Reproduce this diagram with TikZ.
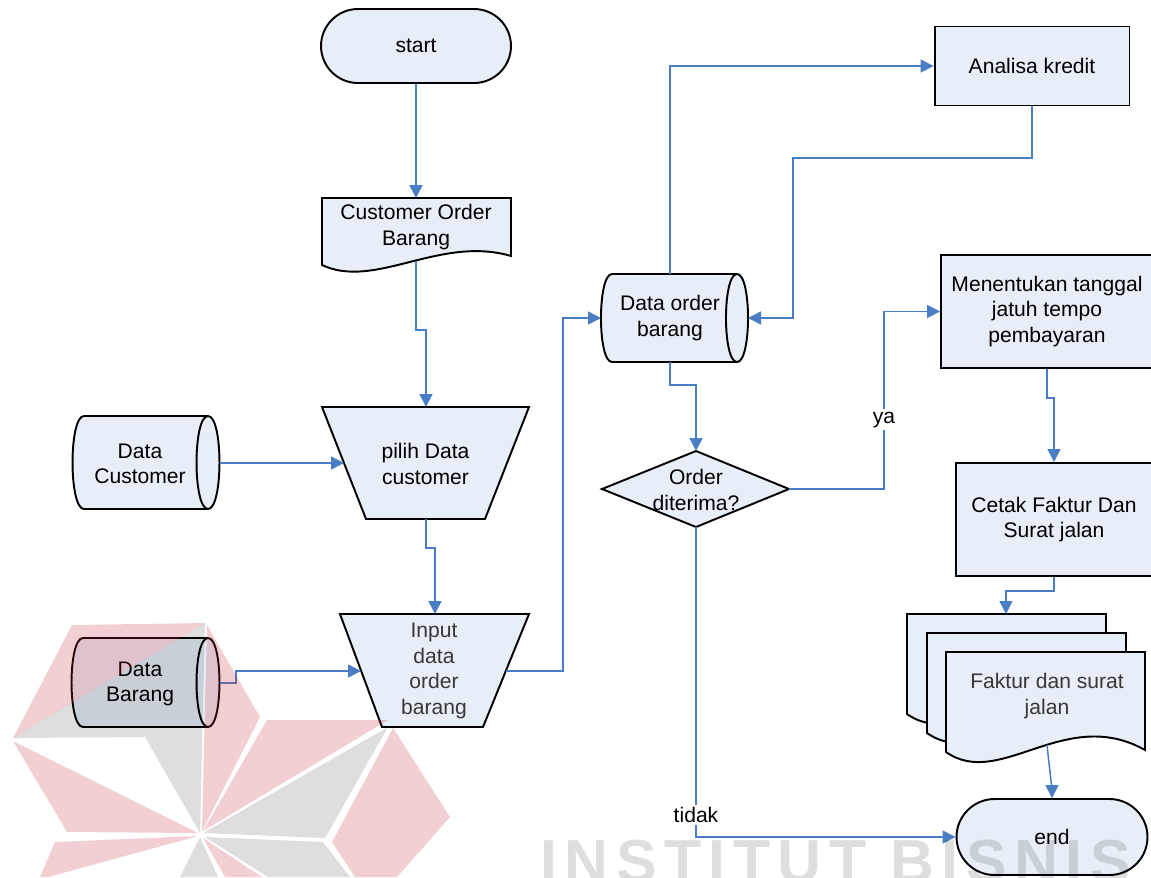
\documentclass[tikz,border=0pt]{standalone}
\usepackage{fontspec}
\setmainfont{Liberation Sans}
\newfontfamily\markfont{Liberation Sans}[LetterSpace=12.3]
\usetikzlibrary{arrows.meta,shapes.misc}
\definecolor{boxfill}{RGB}{232,238,247}
\definecolor{connblue}{RGB}{74,126,196}
\definecolor{wmred}{RGB}{200,40,55}
\newcommand{\lbl}{\fontsize{12}{14.5}\selectfont}
\tikzset{
  box/.style={draw=black, line width=1.1pt, fill=boxfill, line join=miter},
  edge/.style={draw=black, line width=1.1pt},
  txt/.style={align=center, font=\lbl, inner sep=0pt},
  rect/.style={box, rectangle, txt},
  term/.style={box, rounded rectangle, txt},
  conn/.style={draw=connblue, line width=0.85pt, -{Triangle[length=0.26cm,width=0.26cm]}},
  lab/.style={fill=white, inner sep=1.5pt, font=\lbl},
  wmr/.style={fill=wmred, fill opacity=0.22},
  wmg/.style={fill=black, fill opacity=0.13},
}
\begin{document}
\begin{tikzpicture}[x=0.02cm,y=-0.02cm]
\useasboundingbox (0,0) rectangle (1151,877);
\fill[white] (0,0) rectangle (1151,877);

% ---------- shapes ----------
% start / end terminals
\node[term, minimum width=3.8cm, minimum height=1.48cm] (start) at (416,46) {start};
\node[term, minimum width=3.82cm, minimum height=1.52cm] (endn) at (1052,837) {end};

% document: Customer Order Barang
\path[box] (322,198) -- (511,198) -- (511,256) .. controls (440,235) and (375,290) .. (322,265) -- cycle;
\node[txt] (cuo) at (416,227) {Customer Order\\Barang};
\coordinate (cuoN) at (416,198);
\coordinate (cuoS) at (416,261);

% manual operation: pilih Data customer
\path[box] (322,407) -- (529,407) -- (485,519) -- (366,519) -- cycle;
\node[txt] (pilih) at (425.5,464) {pilih Data\\customer};
\coordinate (pilihN) at (426,407);
\coordinate (pilihS) at (426,519);
\coordinate (pilihW) at (344,463);

% manual operation: Input data order barang
\path[box] (340,614) -- (529,614) -- (483,727) -- (382,727) -- cycle;
\node[txt, text=black!78] (inp) at (434,671) {Input\\data\\order\\barang};
\coordinate (inN) at (435,614);
\coordinate (inW) at (361,671);
\coordinate (inE) at (506,671);

% stored data: Data Customer
\path[box] (84,416) -- (208,416) .. controls (223.3,416) and (223.3,509) .. (208,509)
  -- (84,509) .. controls (68.7,509) and (68.7,416) .. (84,416) -- cycle;
\draw[edge] (208,416) .. controls (192.7,416) and (192.7,509) .. (208,509);
\node[txt] (dc) at (140,464) {Data\\Customer};
\coordinate (dcE) at (219.5,463);

% stored data: Data Barang
\path[box] (83,638) -- (208,638) .. controls (223.3,638) and (223.3,727) .. (208,727)
  -- (83,727) .. controls (67.7,727) and (67.7,638) .. (83,638) -- cycle;
\draw[edge] (208,638) .. controls (192.7,638) and (192.7,727) .. (208,727);
\node[txt] (db) at (140,684) {Data\\Barang};
\coordinate (dbE) at (219.5,683);

% stored data: Data order barang
\path[box] (612,274) -- (737,274) .. controls (751.7,274) and (751.7,362) .. (737,362)
  -- (612,362) .. controls (597.3,362) and (597.3,274) .. (612,274) -- cycle;
\draw[edge] (737,274) .. controls (722.3,274) and (722.3,362) .. (737,362);
\node[txt] (dob) at (670,318) {Data order\\barang};
\coordinate (dobN) at (670,274);
\coordinate (dobS) at (670,362);
\coordinate (dobW) at (601,318);
\coordinate (dobE) at (748,318);

% decision: Order diterima?
\path[box] (696,451) -- (789,489) -- (696,527) -- (602,489) -- cycle;
\node[txt] (dec) at (696,490) {Order\\diterima?};
\coordinate (decN) at (696,451);
\coordinate (decE) at (789,489);
\coordinate (decS) at (696,527);

% processes
\node[rect, minimum width=3.9cm, minimum height=1.58cm] (ana) at (1032,66) {Analisa kredit};
\node[rect, minimum width=4.24cm, minimum height=2.26cm] (tgl) at (1047,311.5) {Menentukan tanggal\\jatuh tempo\\pembayaran};
\node[rect, minimum width=3.92cm, minimum height=2.26cm] (cetak) at (1054,519.5) {Cetak Faktur Dan\\Surat jalan};

% multi-document: Faktur dan surat jalan
\foreach \ox/\oy in {907/614, 927/633, 946/652}
  \path[box, shift={(\ox,\oy)}] (0,0) -- (199,0) -- (199,98) .. controls (119,53) and (54,138) .. (0,100) -- cycle;
\node[txt, text=black!78] (md) at (1047,696) {Faktur dan surat\\jalan};
\coordinate (mdN) at (1006,614);
\coordinate (mdS) at (1047,745);

% ---------- connectors ----------
\draw[conn] (start.south) -- (cuoN);
\draw[conn] (cuoS) -- ++(0,69) -| (pilihN);
\draw[conn] (dcE) -- (pilihW);
\draw[conn] (pilihS) -- ++(0,29) -| (inN);
\draw[conn] (dbE) -- ++(16.5,0) |- (inW);
\draw[conn] (inE) -- ++(57,0) |- (dobW);
\draw[conn] (dobN) |- (ana.west);
\draw[conn] (ana.south) |- (793,158) |- (dobE);
\draw[conn] (dobS) -- ++(0,23) -| (decN);
\draw[conn] (decE) -- (884,489) -- node[lab, pos=0.39] {ya} (884,311.5) -- (tgl.west);
\draw[conn] (decS) |- node[lab, pos=0.4645] {tidak} (endn.west);
\draw[conn] (tgl.south) -- ++(0,29) -| (cetak.north);
\draw[conn] (cetak.south) -- ++(0,14) -| (mdN);
\draw[conn] (mdS) -- (1052,790) -- (endn.north);

% ---------- watermark ----------
\fill[wmr] (72,625) -- (205,623) -- (13,738) -- cycle;
\fill[wmg] (13,738) -- (205,623) -- (200,833) -- (145,737) -- cycle;
\fill[wmr] (207,625) -- (260,717) -- (202,831) -- cycle;
\fill[wmr] (13,741) -- (198,833) -- (67,832) -- cycle;
\fill[wmr] (55,842) -- (198,836) -- (48,877) -- (40,877) -- cycle;
\fill[wmg] (200,837) -- (180,877) -- (218,877) -- cycle;
\fill[wmr] (203,838) -- (262,877) -- (225,877) -- cycle;
\fill[wmr] (267,720) -- (388,720) -- (203,831) -- cycle;
\fill[wmg] (388,727) -- (325,838) -- (203,833) -- cycle;
\fill[wmr] (393,728) -- (450,817) -- (397,877) -- (355,877) -- (332,842) -- cycle;
\fill[wmg] (205,837) -- (323,842) -- (350,877) -- (268,877) -- cycle;
\node[anchor=base west, inner sep=0pt, text=black, text opacity=0.13,
  font=\markfont\bfseries\fontsize{34.6}{34.6}\selectfont] (mark) at (540,882) {INSTITUT BISNIS};
\end{tikzpicture}
\end{document}
